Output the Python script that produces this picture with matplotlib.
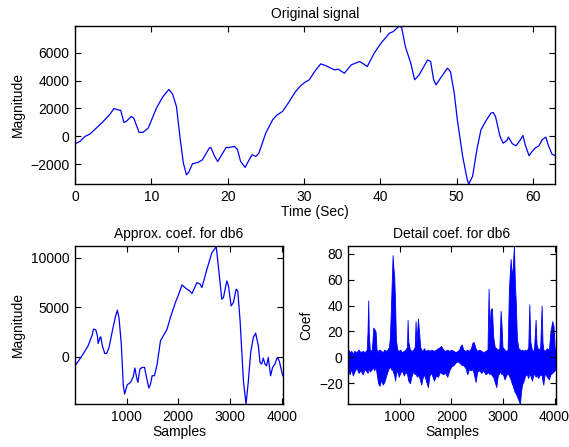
import matplotlib
matplotlib.use('Agg')
from matplotlib import pyplot as plt

plt.rcParams['font.family'] = ['Liberation Sans', 'DejaVu Sans']
plt.rcParams['font.size'] = 10

# original signal (time in sec, magnitude)
sig_t = [0, 0.65, 1.3, 1.96, 2.8, 3.7, 4.6, 5.1, 5.65, 6.0, 6.4, 6.7, 7.4, 7.7,
         8.4, 8.9, 9.6, 10.65, 11.5, 12.3, 12.8, 13.3, 13.8, 14.2, 14.6, 14.9,
         15.4, 16.1, 16.7, 17.6, 17.8, 18.3, 18.7, 19.1, 19.8, 20.2, 20.9, 21.3,
         21.7, 22.3, 22.7, 23.2, 23.7, 24.1, 25.0, 25.9, 26.5, 27.2, 28.0, 28.9,
         29.6, 30.1, 30.7, 31.4, 32.2, 32.9, 34.0, 34.5, 35.3, 36.2, 37.3, 37.8,
         38.3, 39.2, 40.1, 41.2, 41.7, 42.5, 42.8, 43.3, 44.0, 44.5, 45.1, 46.2,
         46.6, 47.0, 47.3, 47.9, 48.8, 49.2, 49.7, 50.1, 50.8, 51.4, 51.6, 52.1,
         52.7, 53.2, 53.8, 54.5, 54.8, 55.1, 55.7, 56.1, 56.6, 56.8, 57.3, 57.8,
         58.3, 58.7, 59.0, 59.5, 59.9, 60.3, 60.8, 61.2, 61.7, 62.0, 62.5, 62.9]
sig_v = [-520, -360, 0, 170, 600, 1070, 1600, 2000, 1900, 1860, 1000, 1070, 1430, 1310,
         290, 290, 600, 2000, 2830, 3360, 3020, 2120, -240, -1900, -2740, -2570,
         -1950, -1860, -1670, -830, -790, -1430, -1790, -1430, -790, -790, -710, -950,
         -1790, -2210, -1790, -1310, -1430, -1190, 240, 1190, 1550, 1790, 2430, 3210,
         3640, 3860, 4050, 4640, 5190, 5050, 4760, 4810, 4520, 5120, 5360, 5190,
         5000, 5950, 6670, 7380, 7500, 7900, 7800, 6400, 5240, 4050, 4400, 5470,
         5360, 4050, 3690, 4170, 4880, 4640, 3090, 1190, -1430, -3090, -3400, -2850,
         -830, 480, 1070, 1670, 1710, 1430, 0, -480, -290, -50, -520, -670,
         -290, 70, -600, -1380, -1070, -830, -670, -240, -50, -600, -1260, -1380]

# approximation coefficients
app_s = [18, 114, 178, 255, 339, 358, 403, 435, 448, 486, 499, 531, 576, 615, 660,
         724, 788, 820, 852, 897, 936, 961, 1013, 1077, 1128, 1160, 1193, 1218,
         1257, 1302, 1347, 1385, 1430, 1462, 1494, 1539, 1591, 1655, 1783, 1847,
         1944, 2008, 2072, 2168, 2220, 2265, 2361, 2425, 2457, 2554, 2650, 2714,
         2733, 2778, 2842, 2874, 2939, 2971, 3022, 3067, 3119, 3151, 3196, 3260,
         3311, 3356, 3401, 3452, 3497, 3549, 3581, 3613, 3645, 3677, 3709, 3741,
         3786, 3825, 3870, 3915, 3953, 4020]
app_v = [-805, -67, 436, 1107, 2282, 2785, 2718, 2114, 1342, 1946, 2013, 1107, 336, 336, 940,
         2618, 4128, 4698, 3960, 1275, -2920, -3760, -2819, -2584, -2014, -1141, -2081, -2584,
         -1242, -1074, -1074, -2081, -3155, -2752, -1913, -1913, -738, 1611, 2785, 3960,
         5470, 6309, 7249, 6813, 6645, 6376, 7484, 7316, 6981, 8826, 10504, 10940,
         11175, 8994, 5806, 5974, 7652, 7148, 5135, 5470, 6813, 6645, 3624, -2416,
         -4765, -2416, 436, 1946, 2383, 1107, -570, -738, -134, -738, -906, -67,
         -1913, -1074, -738, -67, -403, -1913]

# detail coefficients: upper and lower envelope of the dense trace
det_s = [1, 30, 60, 90, 120, 160, 200, 240, 280, 320, 360, 375, 389, 400, 420, 460,
         486, 505, 531, 550, 580, 610, 640, 670, 700, 730, 760, 790, 809, 830, 861,
         875, 893, 910, 925, 950, 980, 1010, 1040, 1080, 1110, 1140, 1151, 1165, 1197,
         1230, 1260, 1290, 1306, 1320, 1340, 1352, 1375, 1395, 1416, 1440, 1470, 1500,
         1545, 1575, 1610, 1662, 1700, 1740, 1780, 1800, 1840, 1880, 1920, 1960, 2000,
         2040, 2081, 2120, 2150, 2178, 2200, 2230, 2270, 2308, 2340, 2380, 2404, 2430,
         2469, 2500, 2540, 2580, 2620, 2660, 2700, 2721, 2735, 2760, 2785, 2810, 2840,
         2870, 2900, 2930, 2954, 2970, 2990, 3030, 3060, 3090, 3115, 3148, 3170, 3190,
         3212, 3230, 3250, 3270, 3300, 3329, 3350, 3370, 3400, 3430, 3460, 3490, 3510,
         3530, 3560, 3600, 3632, 3650, 3680, 3720, 3749, 3765, 3781, 3810, 3850, 3890,
         3920, 3955, 3980, 4000, 4020]
det_hi = [6, 4, 5, 3, 5, 4, 6, 4, 5, 4, 6, 20, 44, 18, 5, 6,
          23, 22, 20, 6, 5, 6, 5, 4, 6, 5, 6, 8, 16, 40, 79,
          70, 62, 40, 14, 6, 5, 6, 4, 5, 6, 8, 29, 12, 6,
          5, 6, 8, 28, 12, 22, 30, 19, 8, 6, 5, 7, 5,
          6, 5, 6, 5, 6, 7, 8, 9, 6, 5, 6, 5, 6,
          5, 4, 5, 6, 9, 10, 6, 5, 6, 5, 7, 11, 12,
          7, 5, 6, 5, 4, 5, 6, 53, 19, 37, 38, 16, 8,
          7, 6, 7, 36, 26, 8, 6, 5, 6, 53, 76, 62, 70,
          86, 58, 40, 14, 7, 6, 5, 6, 5, 6, 5, 8, 41,
          12, 6, 5, 29, 10, 6, 7, 40, 12, 6, 5, 7, 6,
          20, 28, 24, 8, 5]
det_lo = [-10, -13, -9, -14, -11, -8, -12, -10, -13, -9, -11, -12, -10, -8, -11, -9,
          -8, -10, -7, -12, -20, -22, -17, -21, -19, -15, -11, -8, -7, -9, -10,
          -12, -14, -18, -13, -10, -15, -12, -10, -14, -11, -13, -15, -18, -20,
          -14, -11, -13, -12, -14, -15, -13, -15, -18, -21, -16, -13, -17,
          -23, -14, -12, -18, -14, -15, -11, -12, -13, -12, -15, -10, -7,
          -6, -4, -3, -4, -5, -6, -6, -8, -13, -9, -10, -9, -12,
          -19, -11, -10, -12, -10, -13, -12, -11, -13, -12, -14, -15, -19,
          -23, -14, -12, -11, -13, -12, -17, -14, -12, -14, -17, -20, -22,
          -25, -27, -28, -30, -33, -36, -26, -21, -18, -14, -13, -16, -12,
          -14, -18, -12, -15, -13, -16, -13, -14, -18, -21, -12, -15, -17,
          -13, -12, -11, -10, -9]

blue = (0, 0, 1)

fig = plt.figure(figsize=(5.69, 4.47), dpi=100)
ax1 = fig.add_axes([0.1318, 0.5884, 0.8436, 0.3535])
ax2 = fig.add_axes([0.1318, 0.0962, 0.365, 0.3535])
ax3 = fig.add_axes([0.612, 0.0962, 0.3645, 0.3535])

ax1.plot(sig_t, sig_v, color=blue, lw=0.9)
ax1.set_xlim(0, 62.9)
ax1.margins(y=0)
ax1.set_xticks(range(0, 61, 10))
ax1.set_yticks(range(-2000, 6001, 2000))
ax1.set_title('Original signal', fontsize=10, pad=6)
ax1.set_xlabel('Time (Sec)', labelpad=1)
ax1.set_ylabel('Magnitude')

ax2.plot(app_s, app_v, color=blue, lw=0.9)
ax2.set_xlim(1, 4020)
ax2.margins(y=0)
ax2.set_xticks([1000, 2000, 3000, 4000])
ax2.set_yticks([0, 5000, 10000])
ax2.set_title('Approx. coef. for db6', fontsize=10, pad=6)
ax2.set_xlabel('Samples', labelpad=1)
ax2.set_ylabel('Magnitude')

ax3.fill_between(det_s, det_lo, det_hi, color=blue, lw=0.6)
ax3.set_xlim(1, 4020)
ax3.margins(y=0)
ax3.set_xticks([1000, 2000, 3000, 4000])
ax3.set_yticks(range(-20, 81, 20))
ax3.set_title('Detail coef. for db6', fontsize=10, pad=6)
ax3.set_xlabel('Samples', labelpad=1)
ax3.set_ylabel('Coef')

for ax in (ax1, ax2, ax3):
    ax.tick_params(direction='in', top=True, right=True, length=4, width=0.8, labelsize=10, pad=4)
    for sp in ax.spines.values():
        sp.set_linewidth(1.0)

fig.savefig('out.png', dpi=100)
